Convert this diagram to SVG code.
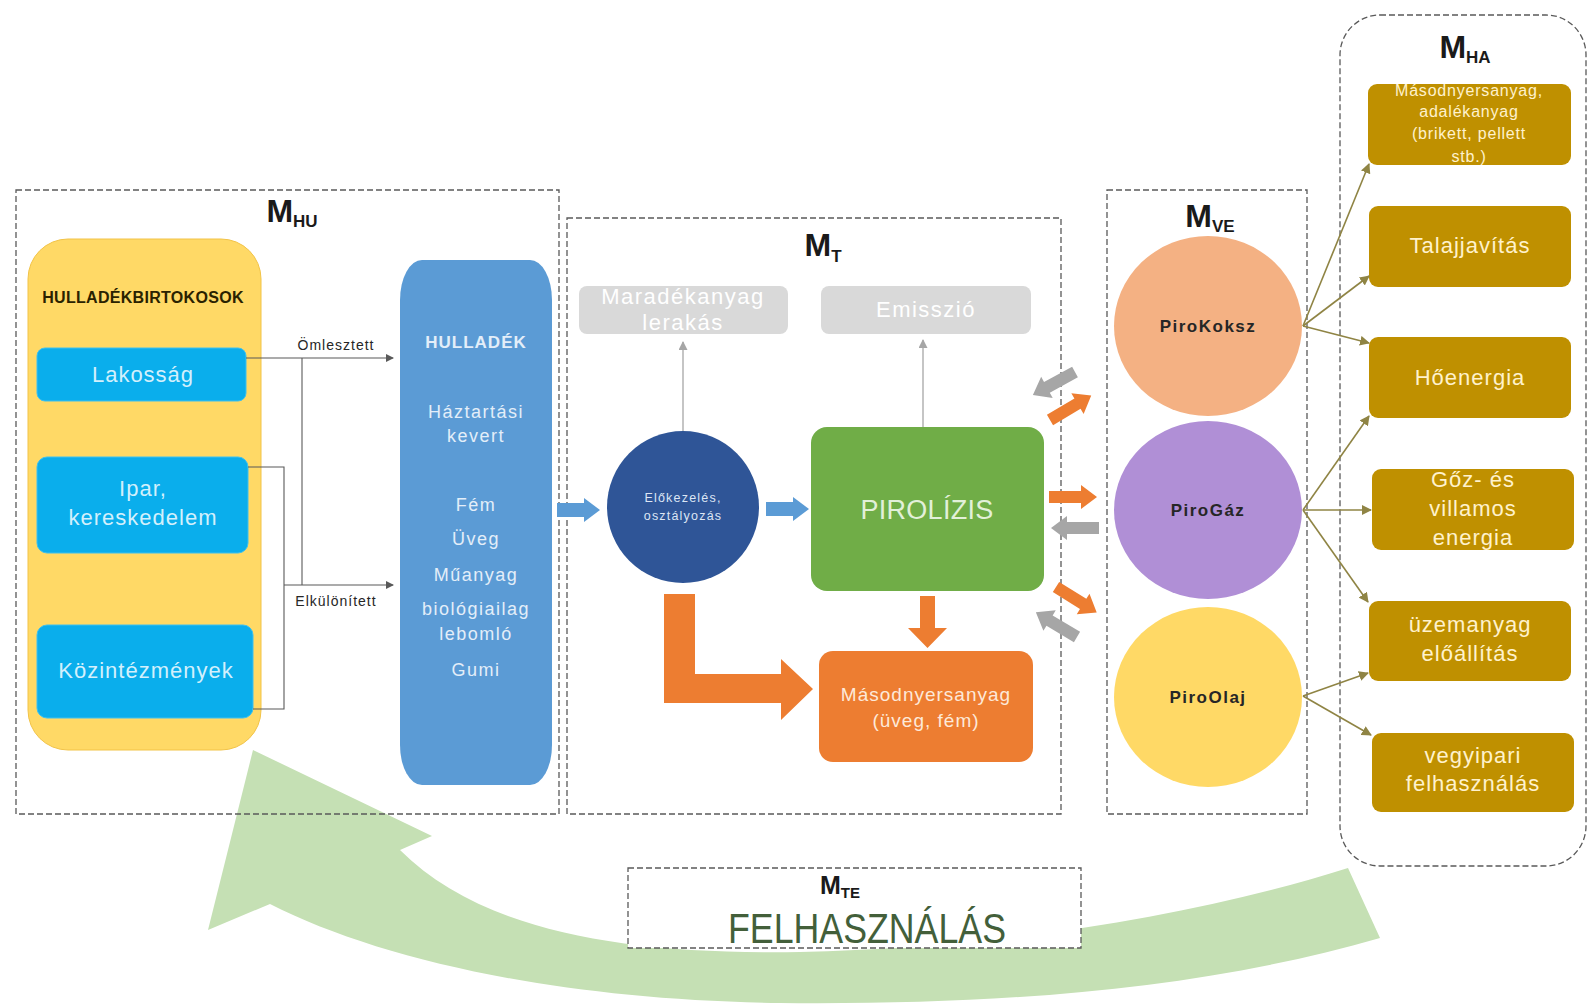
<svg xmlns="http://www.w3.org/2000/svg" xmlns:xlink="http://www.w3.org/1999/xlink" width="1589" height="1005" viewBox="0 0 1589 1005">
<style>
text{font-family:"Liberation Sans",Arial,sans-serif;text-anchor:middle}
.dash{fill:none;stroke:#595959;stroke-width:1.3;stroke-dasharray:6 3}
.dashw{fill:#fff;stroke:#595959;stroke-width:1.3;stroke-dasharray:6 3}
.ml{font-weight:bold;font-size:32px;fill:#1a1a1a}
.ms{font-size:17px}
.cyan{fill:#0AAEEC;stroke:#3CC0F0;stroke-width:1}
.cyt{font-size:22px;letter-spacing:1px;fill:#D3F0FC}
.blt{font-size:18px;letter-spacing:1.5px;fill:#E3EEF9}
.brown{fill:#BF9000}
.brt{font-size:22px;letter-spacing:1px;fill:#FFF2CC}
.grey{fill:#D9D9D9}
.grt{font-size:22px;letter-spacing:1.5px;fill:#FFFFFF}
.pirt{font-weight:bold;font-size:17px;letter-spacing:1.5px;fill:#262626}
.thin{stroke:#595959;stroke-width:1.1;fill:none}
.thing{stroke:#A6A6A6;stroke-width:1.3;fill:none}
.olive{stroke:#8F8444;stroke-width:1.6;fill:none;marker-end:url(#ao)}
.small{font-size:14px;letter-spacing:1px;fill:#262626}
</style>
<defs>
<marker id="ad" markerWidth="8" markerHeight="8" refX="7" refY="4" orient="auto" markerUnits="userSpaceOnUse"><path d="M0,0 L8,4 L0,8 Z" fill="#595959"/></marker>
<marker id="ag" markerWidth="9" markerHeight="9" refX="8" refY="4.5" orient="auto" markerUnits="userSpaceOnUse"><path d="M0,0 L9,4.5 L0,9 Z" fill="#A6A6A6"/></marker>
<marker id="ao" markerWidth="10" markerHeight="10" refX="9" refY="5" orient="auto" markerUnits="userSpaceOnUse"><path d="M0,0 L10,5 L0,10 Z" fill="#8F8444"/></marker>
<path id="blk" d="M0,-6 H32 V-12 L48,0 L32,12 V6 H0 Z"/>
<path id="blb" d="M0,-7 H27 V-12 L43,0 L27,12 V7 H0 Z"/>
</defs>
<rect width="1589" height="1005" fill="#fff"/>

<g id="return-arrow">
<path d="M253,750 L432,836 L400,850 C480,930 620,955 800,952 C1000,948 1200,915 1348,868 L1380,938 C1200,990 1000,1005 780,1003 C560,1000 380,960 270,904 L208,930 Z" fill="#C5E0B4"/>
</g>

<g id="MHU">
<rect class="dash" x="16" y="190" width="543" height="624"/>
<text class="ml" x="292" y="222">M<tspan class="ms" dy="5">HU</tspan></text>
</g>
<g id="MT">
<rect class="dash" x="567" y="218" width="494" height="596"/>
<text class="ml" x="823" y="256">M<tspan class="ms" dy="6">T</tspan></text>
</g>
<g id="MVE">
<rect class="dash" x="1107" y="190" width="200" height="624"/>
<text class="ml" x="1210" y="227">M<tspan class="ms" dy="5">VE</tspan></text>
</g>
<g id="MHA">
<rect class="dash" x="1340" y="15" width="246" height="851" rx="40" ry="40"/>
<text class="ml" x="1465" y="58">M<tspan class="ms" dy="5">HA</tspan></text>
</g>
<g id="MTE">
<rect class="dashw" x="628" y="868" width="453" height="80"/>
<text class="ml" x="840" y="894" style="font-size:25px">M<tspan class="ms" style="font-size:15px" dy="4">TE</tspan></text>
<text x="867" y="943" font-size="42" fill="#435F3A" textLength="278" lengthAdjust="spacingAndGlyphs">FELHASZNÁLÁS</text>
</g>

<g id="hulladekbirtokosok">
<rect x="28" y="239" width="233" height="511" rx="40" ry="40" fill="#FFD966" stroke="#F2C347" stroke-width="1"/>
<text x="143" y="303" font-weight="bold" font-size="16" letter-spacing="0.3" fill="#2a2200">HULLADÉKBIRTOKOSOK</text>
</g>
<g id="lakossag">
<rect class="cyan" x="37" y="348" width="209" height="53" rx="8"/>
<text class="cyt" x="143" y="382">Lakosság</text>
</g>
<g id="ipar">
<rect class="cyan" x="37" y="457" width="211" height="96" rx="10"/>
<text class="cyt" x="143" y="496">Ipar,</text>
<text class="cyt" x="143" y="525">kereskedelem</text>
</g>
<g id="kozintezmenyek">
<rect class="cyan" x="37" y="625" width="216" height="93" rx="10"/>
<text class="cyt" x="146" y="678">Közintézmények</text>
</g>
<g id="hulladek">
<rect x="400" y="260" width="152" height="525" rx="22" ry="40" fill="#5B9BD5"/>
<text x="476" y="348" font-weight="bold" font-size="17" letter-spacing="1" fill="#E3EEF9">HULLADÉK</text>
<text class="blt" x="476" y="418">Háztartási</text>
<text class="blt" x="476" y="442">kevert</text>
<text class="blt" x="476" y="511">Fém</text>
<text class="blt" x="476" y="545">Üveg</text>
<text class="blt" x="476" y="581">Műanyag</text>
<text class="blt" x="476" y="615">biológiailag</text>
<text class="blt" x="476" y="640">lebomló</text>
<text class="blt" x="476" y="676">Gumi</text>
</g>

<g id="maradekanyag">
<rect class="grey" x="579" y="286" width="209" height="48" rx="8"/>
<text class="grt" x="683" y="304">Maradékanyag</text>
<text class="grt" x="683" y="330">lerakás</text>
</g>
<g id="emisszio">
<rect class="grey" x="821" y="286" width="210" height="48" rx="8"/>
<text class="grt" x="926" y="317">Emisszió</text>
</g>
<g id="elokezeles">
<circle cx="683" cy="507" r="76" fill="#2F5597"/>
<text x="683" y="502" font-size="12.5" letter-spacing="1.2" fill="#DDE6F5">Előkezelés,</text>
<text x="683" y="520" font-size="12.5" letter-spacing="1.2" fill="#DDE6F5">osztályozás</text>
</g>
<g id="pirolizis">
<rect x="811" y="427" width="233" height="164" rx="16" fill="#70AD47"/>
<text x="927" y="519" font-size="27" letter-spacing="0.3" fill="#E2F0D9">PIROLÍZIS</text>
</g>
<g id="masodnyersanyag">
<rect x="819" y="651" width="214" height="111" rx="14" fill="#ED7D31"/>
<text x="926" y="701" font-size="19" letter-spacing="1" fill="#FDE9D9">Másodnyersanyag</text>
<text x="926" y="727" font-size="19" letter-spacing="1" fill="#FDE9D9">(üveg, fém)</text>
</g>

<g id="pirokoksz">
<ellipse cx="1208" cy="326" rx="94" ry="90" fill="#F4B183"/>
<text class="pirt" x="1208" y="332">PiroKoksz</text>
</g>
<g id="pirogaz">
<ellipse cx="1208" cy="510" rx="94" ry="89" fill="#B08FD6"/>
<text class="pirt" x="1208" y="516">PiroGáz</text>
</g>
<g id="piroolaj">
<ellipse cx="1208" cy="697" rx="94" ry="90" fill="#FFD966"/>
<text class="pirt" x="1208" y="703">PiroOlaj</text>
</g>

<g id="ha-masodnyersanyag">
<rect class="brown" x="1368" y="84" width="203" height="81" rx="9"/>
<text x="1469" y="96" font-size="16" letter-spacing="0.8" fill="#FFF2CC">Másodnyersanyag,</text>
<text x="1469" y="117" font-size="16" letter-spacing="0.8" fill="#FFF2CC">adalékanyag</text>
<text x="1469" y="139" font-size="16" letter-spacing="0.8" fill="#FFF2CC">(brikett, pellett</text>
<text x="1469" y="162" font-size="16" letter-spacing="0.8" fill="#FFF2CC">stb.)</text>
</g>
<g id="talajjavitas">
<rect class="brown" x="1369" y="206" width="202" height="81" rx="9"/>
<text class="brt" x="1470" y="253">Talajjavítás</text>
</g>
<g id="hoenergia">
<rect class="brown" x="1369" y="337" width="202" height="81" rx="9"/>
<text class="brt" x="1470" y="385">Hőenergia</text>
</g>
<g id="goz">
<rect class="brown" x="1372" y="469" width="202" height="81" rx="9"/>
<text class="brt" x="1473" y="487">Gőz- és</text>
<text class="brt" x="1473" y="516">villamos</text>
<text class="brt" x="1473" y="545">energia</text>
</g>
<g id="uzemanyag">
<rect class="brown" x="1369" y="601" width="202" height="80" rx="9"/>
<text class="brt" x="1470" y="632">üzemanyag</text>
<text class="brt" x="1470" y="661">előállítás</text>
</g>
<g id="vegyipari">
<rect class="brown" x="1372" y="733" width="202" height="79" rx="9"/>
<text class="brt" x="1473" y="763">vegyipari</text>
<text class="brt" x="1473" y="791">felhasználás</text>
</g>

<g id="connectors">
<path class="thin" d="M246,358 H393" marker-end="url(#ad)"/>
<path class="thin" d="M302,358 V585"/>
<path class="thin" d="M248,467 H284 V709 H253"/>
<path class="thin" d="M284,585 H393" marker-end="url(#ad)"/>
<text class="small" x="336" y="350">Ömlesztett</text>
<text class="small" x="336" y="606">Elkülönített</text>
<use href="#blb" xlink:href="#blb" transform="translate(557,510)" fill="#5B9BD5"/>
<use href="#blb" xlink:href="#blb" transform="translate(766,509)" fill="#5B9BD5"/>
<path class="thing" d="M683,431 V342" marker-end="url(#ag)"/>
<path class="thing" d="M923,427 V340" marker-end="url(#ag)"/>
<path d="M920,596 H935 V628 H947 L927.5,648 L908,628 H920 Z" fill="#ED7D31"/>
<path d="M664,594 H695 V674 H781 V659 L813,689 L781,720 V703 H664 Z" fill="#ED7D31"/>
<use href="#blk" xlink:href="#blk" transform="translate(1075,372) rotate(151.3)" fill="#A6A6A6"/>
<use href="#blk" xlink:href="#blk" transform="translate(1050,420) rotate(-30.8)" fill="#ED7D31"/>
<use href="#blk" xlink:href="#blk" transform="translate(1049,497)" fill="#ED7D31"/>
<use href="#blk" xlink:href="#blk" transform="translate(1099,528) rotate(180)" fill="#A6A6A6"/>
<use href="#blk" xlink:href="#blk" transform="translate(1056,587) rotate(32)" fill="#ED7D31"/>
<use href="#blk" xlink:href="#blk" transform="translate(1077,637) rotate(-149)" fill="#A6A6A6"/>
<path class="olive" d="M1303,326 L1369,164"/>
<path class="olive" d="M1303,326 L1369,276"/>
<path class="olive" d="M1303,326 L1369,343"/>
<path class="olive" d="M1303,510 L1369,416"/>
<path class="olive" d="M1303,510 L1371,510"/>
<path class="olive" d="M1303,510 L1368,602"/>
<path class="olive" d="M1303,696 L1368,673"/>
<path class="olive" d="M1303,696 L1371,735"/>
</g>
</svg>
